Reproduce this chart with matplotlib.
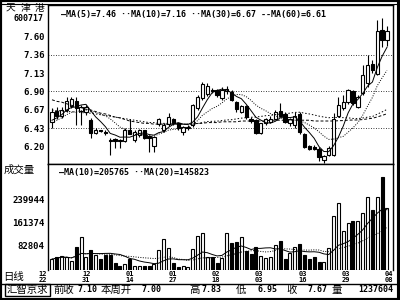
import numpy as np
import pandas as pd
import matplotlib
matplotlib.use("Agg")
import matplotlib.pyplot as plt
from matplotlib.patches import Rectangle
from matplotlib.transforms import blended_transform_factory

CJK = ['Noto Sans CJK SC', 'DejaVu Sans']
MONO = 'DejaVu Sans Mono'

# daily candles, 600717 天津港
opens = [6.51, 6.65, 6.58, 6.66, 6.71, 6.78, 6.65, 6.64, 6.53, 6.37,
         6.40, 6.38, 6.28, 6.29, 6.28, 6.26, 6.40, 6.28, 6.34, 6.40,
         6.33, 6.20, 6.48, 6.40, 6.48, 6.54, 6.49, 6.38, 6.43, 6.47,
         6.68, 6.81, 6.86, 6.92, 6.91, 6.81, 6.90, 6.89, 6.76, 6.64,
         6.71, 6.55, 6.53, 6.37, 6.49, 6.51, 6.55, 6.65, 6.61, 6.49,
         6.47, 6.61, 6.36, 6.20, 6.19, 6.17, 6.02, 6.09, 6.09, 6.59,
         6.68, 6.76, 6.90, 6.70, 6.87, 7.00, 7.25, 7.12, 7.68, 7.55]
highs = [6.68, 6.70, 6.70, 6.82, 6.83, 6.82, 6.72, 6.72, 6.56, 6.43,
         6.41, 6.40, 6.31, 6.30, 6.29, 6.43, 6.55, 6.40, 6.42, 6.41,
         6.34, 6.33, 6.56, 6.50, 6.62, 6.56, 6.50, 6.46, 6.47, 6.74,
         6.85, 7.02, 7.00, 6.94, 6.93, 6.95, 6.96, 6.92, 6.78, 6.73,
         6.73, 6.57, 6.55, 6.50, 6.56, 6.58, 6.66, 6.75, 6.63, 6.56,
         6.64, 6.63, 6.37, 6.22, 6.21, 6.19, 6.09, 6.20, 6.62, 6.82,
         6.85, 6.93, 6.92, 6.85, 7.23, 7.36, 7.30, 7.80, 7.83, 7.73]
lows = [6.43, 6.55, 6.56, 6.63, 6.68, 6.47, 6.47, 6.60, 6.30, 6.36,
        6.38, 6.34, 6.09, 6.18, 6.18, 6.25, 6.35, 6.25, 6.32, 6.29,
        6.13, 6.13, 6.46, 6.38, 6.46, 6.47, 6.41, 6.34, 6.40, 6.45,
        6.66, 6.79, 6.84, 6.88, 6.83, 6.79, 6.86, 6.77, 6.63, 6.62,
        6.55, 6.50, 6.36, 6.36, 6.47, 6.49, 6.53, 6.57, 6.49, 6.46,
        6.43, 6.36, 6.18, 6.15, 6.15, 6.01, 5.99, 6.07, 6.07, 6.57,
        6.66, 6.74, 6.72, 6.68, 6.85, 6.95, 7.13, 7.10, 7.46, 7.47]
closes = [6.64, 6.58, 6.66, 6.78, 6.80, 6.68, 6.70, 6.70, 6.37, 6.41,
          6.39, 6.37, 6.27, 6.27, 6.27, 6.40, 6.36, 6.38, 6.40, 6.30,
          6.30, 6.32, 6.54, 6.47, 6.57, 6.49, 6.43, 6.44, 6.45, 6.72,
          6.83, 6.99, 6.97, 6.90, 6.85, 6.92, 6.93, 6.79, 6.67, 6.71,
          6.57, 6.52, 6.37, 6.49, 6.54, 6.55, 6.63, 6.59, 6.51, 6.54,
          6.59, 6.38, 6.19, 6.17, 6.17, 6.06, 6.07, 6.18, 6.55, 6.72,
          6.76, 6.91, 6.75, 6.83, 7.10, 7.23, 7.17, 7.67, 7.55, 7.67]
vols = [37000, 45000, 48000, 45000, 32000, 78000, 112000, 45000, 68000, 51000,
        37000, 51000, 51000, 23000, 14000, 19000, 37000, 14000, 12000, 14000,
        14000, 19000, 68000, 105000, 74000, 23000, 10000, 12000, 10000, 71000,
        116000, 125000, 45000, 44000, 25000, 40000, 125000, 91000, 97000, 112000,
        66000, 55000, 80000, 48000, 40000, 45000, 84000, 98000, 38000, 57000,
        80000, 89000, 51000, 37000, 44000, 28000, 28000, 76000, 184000, 228000,
        133000, 162000, 167000, 167000, 196000, 248000, 205000, 250000, 318000, 212000]

ma5_head = [6.53, 6.56, 6.60, 6.66]
ma10_head = [6.50, 6.53, 6.56, 6.60, 6.63, 6.64, 6.65, 6.66, 6.64]
ma30_head = [6.66, 6.65, 6.65, 6.64, 6.64, 6.63, 6.63, 6.62, 6.62, 6.61,
             6.60, 6.59, 6.58, 6.57, 6.56, 6.55, 6.54, 6.53, 6.52, 6.51,
             6.50, 6.50, 6.49, 6.49, 6.49, 6.48, 6.48, 6.48, 6.48]
ma60_head = [6.79, 6.77, 6.76, 6.74, 6.72, 6.71, 6.69, 6.67, 6.66, 6.64,
             6.62, 6.61, 6.59, 6.57, 6.56, 6.54, 6.52, 6.51, 6.50, 6.49,
             6.49, 6.48, 6.48, 6.48, 6.48, 6.48, 6.48, 6.48, 6.48, 6.48,
             6.49, 6.49, 6.50, 6.50, 6.50, 6.51, 6.51, 6.51, 6.51, 6.52,
             6.52, 6.52, 6.52, 6.52, 6.52, 6.53, 6.53, 6.53, 6.53, 6.53,
             6.53, 6.53, 6.53, 6.53, 6.52, 6.52, 6.52, 6.52, 6.52]

price_ticks = [7.60, 7.36, 7.13, 6.90, 6.67, 6.43, 6.20]
price_labels = ['7.60', '7.36', '7.13', '6.90', '6.67', '6.43', '6.20']
grid_levels = [7.36, 6.90, 6.43]
vol_ticks = [239944, 161374, 82804]
vol_labels = ['239944', '161374', '82804']
date_months = ['12', '12', '01', '01', '02', '03', '03', '03', '04']
date_days = ['22', '31', '14', '27', '18', '03', '16', '29', '08']

price_legend = '—MA(5)=7.46 ··MA(10)=7.16 ··MA(30)=6.67 --MA(60)=6.61'
vol_legend = '—MA(10)=205765 ··MA(20)=145823'
# (text, left x in pixels, kind)
info_items = [('前收', 53, 'cjk'), ('7.10', 77, 'num'), ('本周开', 101, 'cjk'),
              ('7.00', 141, 'num'), ('高', 189, 'cjk'), ('7.83', 202, 'num'),
              ('低', 236, 'cjk'), ('6.95', 257, 'num'), ('收', 286, 'cjk'),
              ('7.67', 307, 'num'), ('量', 331, 'cjk'), ('1237604', 358, 'num')]


def ma(vals, n, head):
    s = pd.Series(vals).rolling(n).mean().to_numpy()
    s[:len(head)] = head
    return s


def px(x, y):
    return x / 400, 1 - y / 300


o = np.array(opens); h = np.array(highs); l = np.array(lows); c = np.array(closes)
v = np.array(vols)
x = np.arange(len(c))
up = c >= o

fig = plt.figure(figsize=(4, 3), dpi=100)
fig.patch.set_facecolor('white')
ax_p = fig.add_axes([48 / 400, 1 - 164 / 300, 345 / 400, 159 / 300])
ax_v = fig.add_axes([48 / 400, 1 - 270 / 300, 345 / 400, 106 / 300])

# price panel
for g in grid_levels:
    ax_p.axhline(g, color='black', lw=0.6, ls=(0, (1, 2)), zorder=1)
ax_p.vlines(x, l, h, color='black', lw=0.8, zorder=2)
ax_p.bar(x, np.maximum(np.abs(c - o), 0.008), bottom=np.minimum(o, c), width=0.68,
         color=np.where(up, 'white', 'black'), edgecolor='black', linewidth=0.8, zorder=3)
ax_p.plot(x, ma(c, 5, ma5_head), color='black', lw=0.7, zorder=4)
ax_p.plot(x, ma(c, 10, ma10_head), color='black', lw=0.7, ls=(0, (1, 1.5)), zorder=4)
ax_p.plot(x, ma(c, 30, ma30_head), color='black', lw=0.7, ls=(0, (1.5, 2)), zorder=4)
ax_p.plot(x, ma(c, 60, ma60_head), color='black', lw=0.7, ls=(0, (3, 2)), zorder=4)
ax_p.set_xlim(-0.82, 70.24)
ax_p.set_ylim(5.973, 7.996)
ax_p.set_xticks([])
ax_p.set_yticks(price_ticks, price_labels)

# volume panel
ax_v.bar(x, v, width=0.62, color=np.where(up, 'white', 'black'),
         edgecolor='black', linewidth=0.8, zorder=3)
vs = pd.Series(v)
ax_v.plot(x, vs.rolling(10, min_periods=1).mean(), color='black', lw=0.7, zorder=4)
ax_v.plot(x, vs.rolling(20, min_periods=1).mean(), color='black', lw=0.7,
          ls=(0, (1, 1.5)), zorder=4)
ax_v.set_xlim(-0.82, 70.24)
ax_v.set_ylim(0, 362000)
ax_v.set_xticks([])
ax_v.set_yticks(vol_ticks, vol_labels)
ax_v.spines['bottom'].set_visible(False)

for ax in (ax_p, ax_v):
    ax.tick_params(axis='y', length=0, pad=2.5, labelsize=6.5)
    for t in ax.get_yticklabels():
        t.set_fontfamily(MONO)
        t.set_fontweight('bold')
    for s in ax.spines.values():
        s.set_linewidth(1)

# date row under the volume bars (month above day)
tr = blended_transform_factory(ax_v.transData, ax_v.transAxes)
date_pos = np.linspace(-1.85, 69.4, len(date_days))
for pos, mo, dy in zip(date_pos, date_months, date_days):
    ax_v.text(pos, -4.5 / 106, mo, transform=tr, ha='center', va='center', fontsize=5,
              family=MONO, fontweight='bold', clip_on=False)
    ax_v.text(pos, -10.5 / 106, dy, transform=tr, ha='center', va='center', fontsize=5,
              family=MONO, fontweight='bold', clip_on=False)

# left column texts
for ch, cx in zip('天津港', [10, 25, 40]):
    fig.text(*px(cx, 8.5), ch, ha='center', va='center', fontsize=7, family=CJK)
fig.text(*px(43, 18.5), '600717', ha='right', va='center', fontsize=6,
         family=MONO, fontweight='bold')
fig.text(*px(4, 170), '成交量', ha='left', va='center', fontsize=7.5, family=CJK)
fig.text(*px(3, 277), '日线', ha='left', va='center', fontsize=7.5, family=CJK)

# legends
fig.text(*px(61, 14.5), price_legend, ha='left', va='center', fontsize=6,
         family=MONO, fontweight='bold')
fig.text(*px(59, 172.5), vol_legend, ha='left', va='center', fontsize=6,
         family=MONO, fontweight='bold')

# bottom info bar
fig.add_artist(plt.Line2D([0, 1], [1 - 283.5 / 300] * 2, color='black', lw=1))
fig.add_artist(Rectangle(px(5, 296), 45 / 400, 12 / 300, fill=False,
                         edgecolor='black', lw=1, transform=fig.transFigure))
fig.text(*px(7, 290), '汇智京求', ha='left', va='center', fontsize=7.5, family=CJK)
for txt, ix, kind in info_items:
    if kind == 'cjk':
        fig.text(*px(ix, 290), txt, ha='left', va='center', fontsize=7.5, family=CJK)
    else:
        fig.text(*px(ix, 290), txt, ha='left', va='center', fontsize=6,
                 family=MONO, fontweight='bold')

# outer double frame
fig.add_artist(Rectangle((0, 0), 1, 1, fill=False, edgecolor='black', lw=3,
                         transform=fig.transFigure))
fig.add_artist(plt.Line2D([0, 1], [1 - 3.5 / 300] * 2, color='black', lw=0.8))
fig.add_artist(plt.Line2D([396.5 / 400] * 2, [0, 1], color='black', lw=0.8))

fig.savefig('out.png', dpi=100)
